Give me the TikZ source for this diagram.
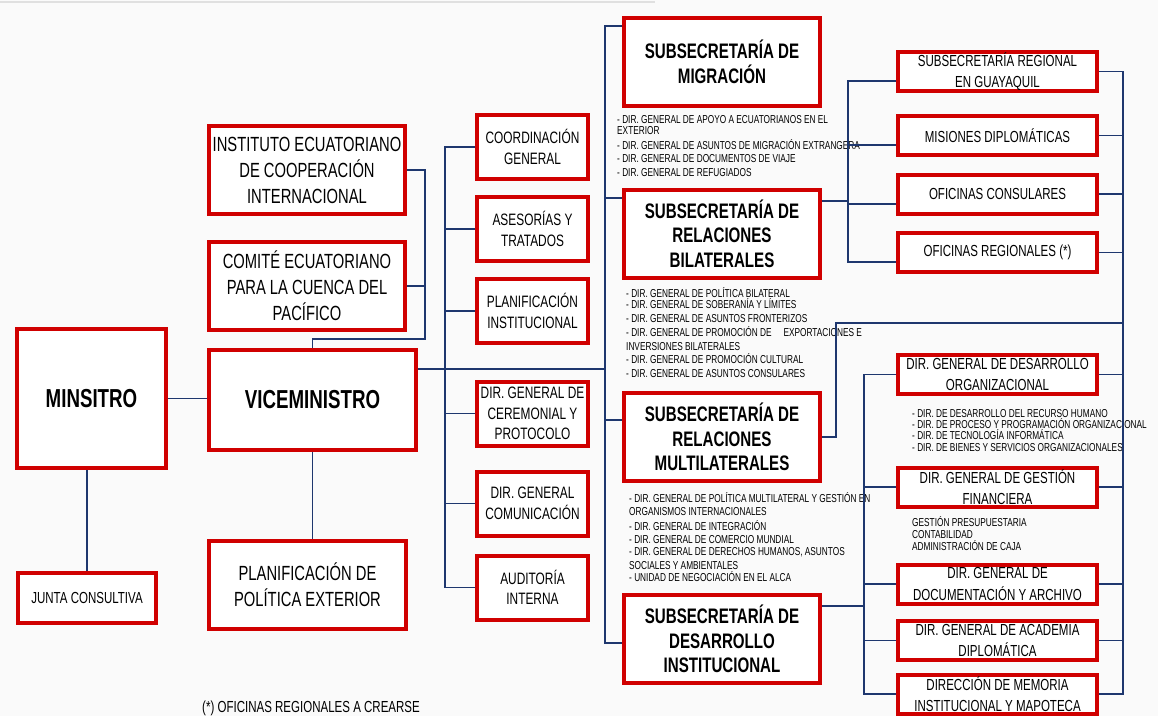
\documentclass[tikz,border=0pt]{standalone}
\usepackage{fontspec}
\setmainfont{Liberation Sans}[FakeStretch=0.72]
\definecolor{boxred}{RGB}{208,0,0}
\definecolor{linkblue}{RGB}{30,55,110}
\definecolor{paper}{RGB}{250,250,250}

\begin{document}
\begin{tikzpicture}[x=1pt, y=-1pt, text=black,
    unit/.style={draw=boxred, line width=4pt, fill=white, align=center, inner sep=0pt},
    link/.style={draw=linkblue, line width=1.8pt},
    wide/.style={minimum width=196pt, minimum height=88pt},
    small/.style={minimum width=111pt, minimum height=64pt},
    flat/.style={minimum width=199pt, minimum height=39pt},
    bigtxt/.style={font=\bfseries\fontsize{26}{30}\selectfont},
    subtxt/.style={font=\bfseries\fontsize{21}{24.5}\selectfont},
    lefttxt/.style={font=\fontsize{20.5}{26}\selectfont},
    midtxt/.style={font=\fontsize{16.5}{20.5}\selectfont},
    righttxt/.style={font=\fontsize{16}{21.5}\selectfont},
    listtxt/.style={font=\fontsize{11.5}{13.5}\selectfont, align=left, anchor=north west, inner sep=0pt}]

    \useasboundingbox (0,0) rectangle (1158,716);
    \fill[paper] (0,0) rectangle (1158,716);
    \draw[black!12, line width=2pt] (0,2) -- (655,2);

    % left side
    \node[unit, minimum width=149pt, minimum height=139pt, bigtxt] (minis) at (91.5,398.5) {MINSITRO};
    \node[unit, minimum width=138pt, minimum height=50pt, font=\fontsize{16}{20}\selectfont] (junta) at (87,598) {JUNTA CONSULTIVA};
    \node[unit, minimum width=207pt, minimum height=100pt, bigtxt] (vice) at (312.5,400) {VICEMINISTRO};
    \node[unit, minimum width=197pt, minimum height=88pt, lefttxt] (planext) at (307.5,585) {PLANIFICACIÓN DE\\POLÍTICA EXTERIOR};
    \node[unit, wide, lefttxt] (icci) at (307,170) {INSTITUTO ECUATORIANO\\DE COOPERACIÓN\\INTERNACIONAL};
    \node[unit, wide, lefttxt] (cecp) at (307,286) {COMITÉ ECUATORIANO\\PARA LA CUENCA DEL\\PACÍFICO};

    % middle column
    \node[unit, small, midtxt] (coord) at (532.5,147) {COORDINACIÓN\\GENERAL};
    \node[unit, small, midtxt] (ases) at (532.5,229) {ASESORÍAS Y\\TRATADOS};
    \node[unit, small, midtxt] (planinst) at (532.5,311) {PLANIFICACIÓN\\INSTITUCIONAL};
    \node[unit, small, midtxt] (cerem) at (532.5,413.5) {DIR. GENERAL DE\\CEREMONIAL Y\\PROTOCOLO};
    \node[unit, small, midtxt] (comun) at (532.5,503.5) {DIR. GENERAL\\COMUNICACIÓN};
    \node[unit, small, midtxt] (audit) at (532.5,587.5) {AUDITORÍA\\INTERNA};

    % subsecretarias
    \node[unit, wide, subtxt] (migr) at (722,62) {SUBSECRETARÍA DE\\MIGRACIÓN};
    \node[unit, wide, subtxt] (bilat) at (722,233.5) {SUBSECRETARÍA DE\\RELACIONES\\BILATERALES};
    \node[unit, wide, subtxt] (multi) at (722,437) {SUBSECRETARÍA DE\\RELACIONES\\MULTILATERALES};
    \node[unit, wide, subtxt] (desin) at (722,639) {SUBSECRETARÍA DE\\DESARROLLO\\INSTITUCIONAL};

    % right column
    \node[unit, flat, righttxt] (guay) at (997.5,71.5) {SUBSECRETARÍA REGIONAL\\EN GUAYAQUIL};
    \node[unit, flat, righttxt] (misio) at (997.5,135.5) {MISIONES DIPLOMÁTICAS};
    \node[unit, flat, righttxt] (ofcon) at (997.5,194) {OFICINAS CONSULARES};
    \node[unit, flat, righttxt] (ofreg) at (997.5,252.5) {OFICINAS REGIONALES (*)};
    \node[unit, flat, righttxt] (dgdo) at (997.5,374.5) {DIR. GENERAL DE DESARROLLO\\ORGANIZACIONAL};
    \node[unit, flat, righttxt] (dggf) at (997.5,487) {DIR. GENERAL DE GESTIÓN\\FINANCIERA};
    \node[unit, flat, righttxt] (dgda) at (997.5,584) {DIR. GENERAL DE\\DOCUMENTACIÓN Y ARCHIVO};
    \node[unit, flat, righttxt] (dgad) at (997.5,640.5) {DIR. GENERAL DE ACADEMIA\\DIPLOMÁTICA};
    \node[unit, flat, righttxt] (dmim) at (997.5,694) {DIRECCIÓN DE MEMORIA\\INSTITUCIONAL Y MAPOTECA};

    % lists
    \node[listtxt] (migrlist) at (617,115) {- DIR. GENERAL DE APOYO A ECUATORIANOS EN EL\\[-2pt]
        EXTERIOR\\[1pt]
        - DIR. GENERAL DE ASUNTOS DE MIGRACIÓN EXTRANGERA\\
        - DIR. GENERAL DE DOCUMENTOS DE VIAJE\\
        - DIR. GENERAL DE REFUGIADOS};
    \node[listtxt] (bilatlist) at (626,287) {- DIR. GENERAL DE POLÍTICA BILATERAL\\[-2pt]
        - DIR. GENERAL DE SOBERANÍA Y LÍMITES\\
        - DIR. GENERAL DE ASUNTOS FRONTERIZOS\\[1pt]
        - DIR. GENERAL DE PROMOCIÓN DE\hspace{12pt}EXPORTACIONES E\\
        INVERSIONES BILATERALES\\
        - DIR. GENERAL DE PROMOCIÓN CULTURAL\\
        - DIR. GENERAL DE ASUNTOS CONSULARES};
    \node[listtxt] (multilist) at (629,492) {- DIR. GENERAL DE POLÍTICA MULTILATERAL Y GESTIÓN EN\\
        ORGANISMOS INTERNACIONALES\\[1pt]
        - DIR. GENERAL DE INTEGRACIÓN\\
        - DIR. GENERAL DE COMERCIO MUNDIAL\\[-1.5pt]
        - DIR. GENERAL DE DERECHOS HUMANOS, ASUNTOS\\
        SOCIALES Y AMBIENTALES\\[-1.5pt]
        - UNIDAD DE NEGOCIACIÓN EN EL ALCA};
    \node[listtxt, font=\fontsize{11.5}{11.3}\selectfont] (dgdolist) at (912,409) {- DIR. DE DESARROLLO DEL RECURSO HUMANO\\
        - DIR. DE PROCESO Y PROGRAMACIÓN ORGANIZACIONAL\\
        - DIR. DE TECNOLOGÍA INFORMÁTICA\\
        - DIR. DE BIENES Y SERVICIOS ORGANIZACIONALES};
    \node[listtxt, font=\fontsize{11.5}{12}\selectfont] (dggflist) at (912,516) {GESTIÓN PRESUPUESTARIA\\
        CONTABILIDAD\\
        ADMINISTRACIÓN DE CAJA};
    \node[anchor=base west, inner sep=0pt, font=\fontsize{16}{20}\selectfont] (nota) at (202,712) {(*) OFICINAS REGIONALES A CREARSE};

    % left links
    \draw[link] (minis.east) -- (minis.east -| vice.west);
    \draw[link] (junta.north) -- (junta.north |- minis.south);
    \draw[link] (vice.south) -- (vice.south |- planext.north);
    \coordinate (ljoin) at (425,339);
    \draw[link] (icci.east) -| (ljoin) -- (ljoin -| vice.north) -- (vice.north);
    \draw[link] (cecp.east) -- (cecp.east -| ljoin);

    % middle bus
    \coordinate (mbus) at (445,0);
    \draw[link] (coord.west) -- (coord.west -| mbus) -- (audit.west -| mbus) -- (audit.west);
    \foreach \n in {ases, planinst, cerem, comun}
        \draw[link] (\n.west) -- (\n.west -| mbus);

    % subsecretarias bus
    \coordinate (stop) at (605,26);
    \coordinate (sbot) at (605,643);
    \coordinate (sbil) at (605,198);
    \coordinate (smul) at (605,420);
    \coordinate (svic) at (605,369);
    \draw[link] (stop -| migr.west) -- (stop) -- (sbot) -- (sbot -| desin.west);
    \draw[link] (sbil) -- (sbil -| bilat.west);
    \draw[link] (smul) -- (smul -| multi.west);
    \draw[link] (vice.east |- svic) -- (svic);

    % upper right bus
    \coordinate (utop) at (848,81);
    \coordinate (ubot) at (848,262);
    \coordinate (umis) at (848,145);
    \coordinate (ucon) at (848,204);
    \coordinate (ubil) at (848,201);
    \draw[link] (utop -| guay.west) -- (utop) -- (ubot) -- (ubot -| ofreg.west);
    \draw[link] (umis) -- (umis -| misio.west);
    \draw[link] (ucon) -- (ucon -| ofcon.west);
    \draw[link] (ubil -| bilat.east) -- (ubil);

    % right bus
    \coordinate (rbus) at (1123,0);
    \draw[link] (guay.east) -- (guay.east -| rbus) -- (dmim.east -| rbus) -- (dmim.east);
    \foreach \n in {misio, ofcon, ofreg, dgdo, dggf, dgda, dgad}
        \draw[link] (\n.east) -- (\n.east -| rbus);
    \coordinate (mlink) at (836,323);
    \draw[link] (multi.east) -| (mlink) -- (mlink -| rbus);

    % lower right bus
    \coordinate (lbus) at (864,0);
    \coordinate (ldes) at (864,606);
    \draw[link] (dgdo.west) -- (dgdo.west -| lbus) -- (dmim.west -| lbus) -- (dmim.west);
    \foreach \n in {dggf, dgda, dgad}
        \draw[link] (\n.west) -- (\n.west -| lbus);
    \draw[link] (ldes -| desin.east) -- (ldes);
\end{tikzpicture}
\end{document}
